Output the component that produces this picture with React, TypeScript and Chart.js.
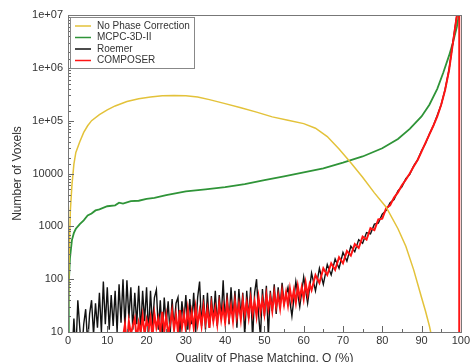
import React, { useEffect, useRef } from 'react';
import { Chart, registerables } from 'chart.js';

Chart.register(...registerables);

const seriesLabels = ['No Phase Correction', 'MCPC-3D-II', 'Roemer', 'COMPOSER'];
const seriesColors = ['#e3c23a', '#2f9438', '#111111', '#ff1414'];

const yMajorValues = [10, 100, 1000, 10000, 100000, 1000000, 10000000];
const yMajorLabels = ['10', '100', '1000', '10000', '1e+05', '1e+06', '1e+07'];
const xTickLabels = ['0', '10', '20', '30', '40', '50', '60', '70', '80', '90', '100'];

// No Phase Correction (smooth)
const noPcQ = [0, 0.3, 0.6, 1, 1.5, 2, 3, 4, 5, 6, 8, 10, 12, 15, 18, 21, 24, 27, 30, 33, 36, 40, 44, 48, 52, 56, 60, 63, 66, 69, 72, 75, 78, 81, 84, 86, 88, 90, 91, 92, 92.6];
const noPcV = [10, 300, 2000, 6000, 15000, 25000, 40000, 60000, 80000, 100000, 130000, 160000, 190000, 230000, 260000, 280000, 295000, 300000, 295000, 280000, 250000, 210000, 175000, 145000, 118000, 102000, 88000, 72000, 50000, 29000, 16000, 8500, 4300, 2300, 900, 420, 150, 45, 25, 13, 8];

// MCPC-3D-II
const mcpcQ = [0, 0.2, 0.5, 1, 1.5, 2, 3, 4, 5, 6, 7, 8, 10, 12, 13, 14, 16, 18, 20, 22, 25, 30, 35, 40, 45, 50, 55, 60, 65, 70, 75, 80, 84, 87, 90, 92, 94, 95.5, 97, 98, 99, 99.5];
const mcpcV = [10, 80, 250, 550, 750, 900, 1100, 1300, 1600, 1750, 2000, 2100, 2400, 2500, 2800, 2700, 3000, 3050, 3300, 3450, 3900, 4600, 5000, 5500, 6300, 7500, 8800, 10500, 12500, 16000, 21000, 30000, 45000, 70000, 120000, 200000, 400000, 800000, 1700000, 3000000, 6000000, 10000000];

// Roemer: fine bins from 1 (step 0.5), coarse bins from 56 (step 1)
const roemerFineStart = 1;
const roemerFineStep = 0.5;
const roemerFine = [
  3, 18, 4, 40, 12, 4, 14, 27, 6, 22,
  40, 9, 35, 12, 55, 10, 90, 14, 70, 11,
  50, 13, 60, 10, 80, 15, 100, 12, 95, 18,
  70, 11, 55, 14, 75, 10, 60, 16, 70, 9,
  60, 13, 45, 63, 11, 40, 8, 45, 14, 38,
  9, 42, 12, 35, 45, 10, 38, 15, 50, 11,
  42, 14, 55, 10, 45, 90, 13, 50, 11, 55,
  12, 48, 16, 60, 13, 50, 18, 95, 15, 55,
  14, 70, 18, 60, 12, 65, 20, 55, 8, 60,
  18, 70, 7, 55, 100, 22, 8, 65, 20, 75,
  8, 60, 25, 80, 22, 70, 30, 85, 35,
];
const roemerCoarseStart = 56;
const roemerCoarseStep = 1;
const roemerCoarse = [
  70, 20, 90, 30, 110, 35, 130, 60, 160, 80,
  190, 120, 240, 160, 320, 220, 420, 330, 560, 480,
  760, 720, 1100, 1150, 1700, 2000, 2800, 3200, 4700, 5600,
  8000, 9600, 14000, 18000, 27000, 37000, 56000, 80000, 125000, 200000,
  390000, 920000, 3100000, 10000000,
];

// COMPOSER: fine bins from 14 (step 0.5), coarse bins from 63 (step 1), then drop at 100
const composerFineStart = 14;
const composerFineStep = 0.5;
const composerFine = [
  8, 14, 6, 16, 9, 13, 18, 7, 15, 10,
  20, 9, 17, 11, 19, 8, 22, 12, 18, 10,
  24, 10, 20, 9, 14, 25, 11, 21, 10, 26,
  12, 22, 11, 27, 13, 24, 12, 29, 14, 25,
  13, 30, 15, 27, 12, 32, 16, 28, 14, 34,
  17, 30, 15, 36, 18, 32, 16, 38, 19, 34,
  17, 40, 21, 36, 19, 43, 22, 38, 20, 46,
  24, 41, 22, 50, 27, 45, 25, 55, 30, 50,
  28, 60, 33, 56, 32, 66, 38, 62, 36, 74,
  44, 70, 42, 85, 50, 80, 62,
];
const composerCoarseStart = 63;
const composerCoarseStep = 1;
const composerCoarse = [
  120, 85, 160, 120, 200, 150, 260, 200, 340, 280,
  460, 390, 640, 560, 920, 850, 1350, 1400, 2200, 2500,
  3500, 4400, 6000, 7600, 10000, 13500, 18000, 26000, 38000, 55000,
  80000, 120000, 200000, 380000, 900000, 3000000, 10000000,
];
const composerTailQ = [99.6, 99.6];
const composerTailV = [12000000, 1];

type Pt = { x: number; y: number };
const zip = (xs: number[], ys: number[]): Pt[] => xs.map((x, i) => ({ x, y: ys[i] }));
const bins = (start: number, step: number, ys: number[]): Pt[] => ys.map((y, i) => ({ x: start + i * step, y }));

const FONT = '"Liberation Sans", Arial, sans-serif';

const frameAndLegend = {
  id: 'frameAndLegend',
  afterDraw(chart: any) {
    const { ctx, chartArea: a, scales } = chart;
    const xs = scales.x;
    const ys = scales.y;
    ctx.save();
    ctx.strokeStyle = '#666';
    ctx.lineWidth = 1;
    ys.ticks.forEach((t: any) => {
      const py = Math.round(ys.getPixelForValue(t.value)) + 0.5;
      const major = Math.abs(Math.log10(t.value) - Math.round(Math.log10(t.value))) < 1e-6;
      const len = major ? 6 : 3;
      ctx.beginPath();
      ctx.moveTo(a.left, py);
      ctx.lineTo(a.left + len, py);
      ctx.stroke();
    });
    xs.ticks.forEach((t: any) => {
      const px = Math.round(xs.getPixelForValue(t.value)) + 0.5;
      const major = t.value % 10 === 0;
      const len = major ? 6 : 3;
      ctx.beginPath();
      ctx.moveTo(px, a.bottom);
      ctx.lineTo(px, a.bottom - len);
      ctx.stroke();
    });
    ctx.strokeStyle = '#777';
    ctx.strokeRect(Math.round(a.left) + 0.5, Math.round(a.top) + 0.5, Math.round(a.right - a.left), Math.round(a.bottom - a.top));
    const lx = a.left + 2;
    const ly = a.top + 2;
    const lw = 124;
    const lh = 51;
    ctx.fillStyle = '#ffffff';
    ctx.fillRect(lx, ly, lw, lh);
    ctx.strokeStyle = '#888';
    ctx.strokeRect(Math.round(lx) + 0.5, Math.round(ly) + 0.5, lw, lh);
    ctx.font = '10px ' + FONT;
    ctx.textBaseline = 'middle';
    ctx.textAlign = 'left';
    chart.data.datasets.forEach((ds: any, i: number) => {
      const rowY = ly + 9 + i * 11.5;
      ctx.strokeStyle = ds.borderColor;
      ctx.lineWidth = 1.5;
      ctx.beginPath();
      ctx.moveTo(lx + 5, rowY);
      ctx.lineTo(lx + 21, rowY);
      ctx.stroke();
      ctx.fillStyle = '#333';
      ctx.fillText(ds.label, lx + 27, rowY);
    });
    ctx.restore();
  },
};

export default function App() {
  const ref = useRef<HTMLCanvasElement | null>(null);
  useEffect(() => {
    if (!ref.current) return;
    const chart = new Chart(ref.current, {
      type: 'line',
      data: {
        datasets: [
          { label: seriesLabels[0], data: zip(noPcQ, noPcV), borderColor: seriesColors[0], borderWidth: 1.5, order: 0 },
          { label: seriesLabels[1], data: zip(mcpcQ, mcpcV), borderColor: seriesColors[1], borderWidth: 1.8, order: 3 },
          {
            label: seriesLabels[2],
            data: [...bins(roemerFineStart, roemerFineStep, roemerFine), ...bins(roemerCoarseStart, roemerCoarseStep, roemerCoarse)],
            borderColor: seriesColors[2],
            borderWidth: 1.4,
            order: 2,
          },
          {
            label: seriesLabels[3],
            data: [
              ...bins(composerFineStart, composerFineStep, composerFine),
              ...bins(composerCoarseStart, composerCoarseStep, composerCoarse),
              ...zip(composerTailQ, composerTailV),
            ],
            borderColor: seriesColors[3],
            borderWidth: 2,
            order: 1,
          },
        ],
      },
      options: {
        animation: false,
        responsive: false,
        layout: { padding: { left: 0, top: 15, right: 10, bottom: 0 } },
        elements: { point: { radius: 0 }, line: { tension: 0 } },
        plugins: { legend: { display: false }, tooltip: { enabled: false } },
        scales: {
          x: {
            type: 'linear',
            min: 0,
            max: 100,
            grid: { display: false, drawTicks: false },
            border: { display: false },
            ticks: {
              stepSize: 5,
              autoSkip: false,
              maxRotation: 0,
              padding: 2,
              color: '#333',
              font: { family: FONT, size: 11 },
              callback: (v: any) => (Number(v) % 10 === 0 ? xTickLabels[Number(v) / 10] : ''),
            },
            title: {
              display: true,
              text: 'Quality of Phase Matching, Q (%)',
              color: '#333',
              padding: { top: 0, bottom: 0 },
              font: { family: FONT, size: 12 },
            },
            afterFit: (axis: any) => {
              axis.height = 34;
            },
          },
          y: {
            type: 'logarithmic',
            min: 10,
            max: 10000000,
            grid: { display: false, drawTicks: false },
            border: { display: false },
            ticks: {
              autoSkip: false,
              padding: 5,
              color: '#333',
              font: { family: FONT, size: 11 },
              callback: (v: any) => {
                const idx = yMajorValues.indexOf(Number(v));
                return idx >= 0 ? yMajorLabels[idx] : '';
              },
            },
            title: {
              display: true,
              text: 'Number of Voxels',
              color: '#333',
              padding: { top: 10, bottom: 4 },
              font: { family: FONT, size: 12 },
            },
            afterFit: (axis: any) => {
              axis.width = 68;
            },
          },
        },
      },
      plugins: [frameAndLegend],
    });
    return () => chart.destroy();
  }, []);
  return (
    <div style={{ position: 'absolute', left: 0, top: 0, width: 472, height: 362, overflow: 'hidden', background: '#fff' }}>
      <canvas ref={ref} width={472} height={366} style={{ display: 'block' }} />
    </div>
  );
}
